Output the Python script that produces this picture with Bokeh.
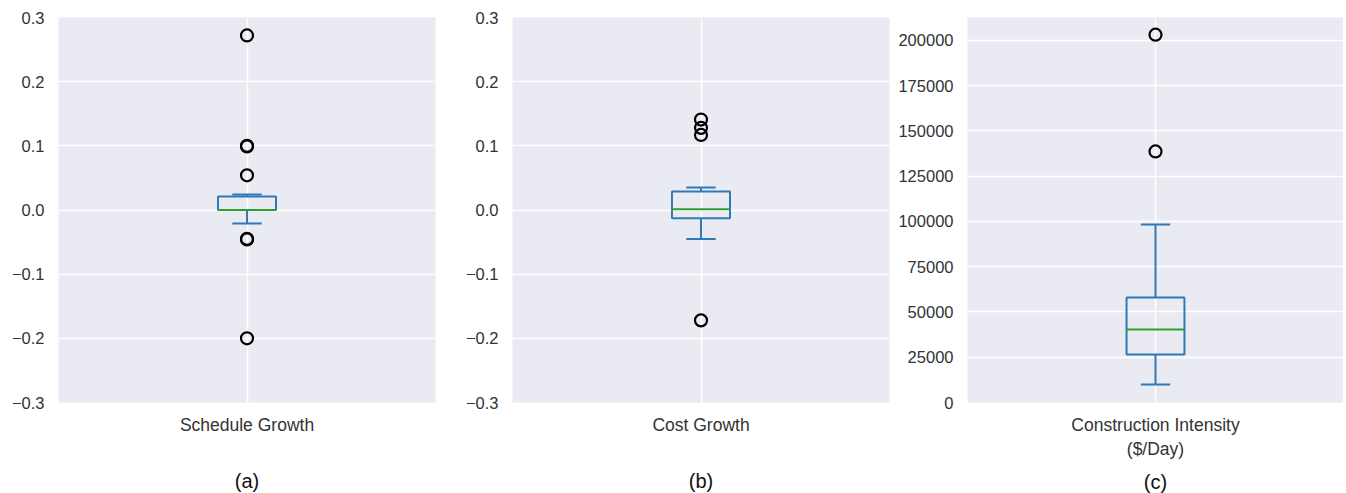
from bokeh.plotting import figure
from bokeh.layouts import row
from bokeh.models import FixedTicker, Range1d
from bokeh.embed import file_html
from bokeh.resources import INLINE

# ---- data ----
labels = ["Schedule Growth", "Cost Growth", "Construction Intensity\n($/Day)"]
captions = ["(a)", "(b)", "(c)"]

sched_stats = dict(lo=-0.021, q1=0.0, med=0.0, q3=0.021, hi=0.024)
sched_out = [0.272, 0.100, 0.099, 0.054, -0.045, -0.046, -0.200]

cost_stats = dict(lo=-0.045, q1=-0.013, med=0.001, q3=0.029, hi=0.035)
cost_out = [0.141, 0.128, 0.117, -0.172]

int_stats = dict(lo=9900, q1=26500, med=40300, q3=58000, hi=98400)
int_out = [203200, 138700]

yticks_growth = [-0.3, -0.2, -0.1, 0.0, 0.1, 0.2, 0.3]
yticks_int = [0, 25000, 50000, 75000, 100000, 125000, 150000, 175000, 200000]

BG = "#EAEAF2"
BLUE = "#3079b8"
GREEN = "#2ca02c"
FONT = "Liberation Sans"


def make_panel(stats, outliers, label, caption, yrange, yticks, fmt,
               left, fw, right, lbl_standoff):
    p = figure(frame_width=fw, frame_height=385, output_backend="svg",
               toolbar_location=None, x_range=Range1d(0.5, 1.5),
               y_range=Range1d(*yrange),
               min_border_left=left, min_border_right=right,
               min_border_top=17, min_border_bottom=90)
    p.background_fill_color = BG
    p.border_fill_color = "white"
    p.outline_line_color = None
    hw, cw = 0.077, 0.039
    # whiskers
    p.segment(x0=[1, 1], y0=[stats["q3"], stats["q1"]],
              x1=[1, 1], y1=[stats["hi"], stats["lo"]],
              line_color=BLUE, line_width=2)
    # caps
    p.segment(x0=[1 - cw, 1 - cw], y0=[stats["hi"], stats["lo"]],
              x1=[1 + cw, 1 + cw], y1=[stats["hi"], stats["lo"]],
              line_color=BLUE, line_width=2)
    # box
    p.quad(left=[1 - hw], right=[1 + hw], bottom=[stats["q1"]], top=[stats["q3"]],
           fill_color=None, line_color=BLUE, line_width=2)
    # median
    p.segment(x0=[1 - hw], y0=[stats["med"]], x1=[1 + hw], y1=[stats["med"]],
              line_color=GREEN, line_width=2)
    # outliers
    p.scatter(x=[1] * len(outliers), y=outliers, marker="circle", size=12,
              fill_color=None, line_color="black", line_width=2.2)

    p.xaxis.ticker = FixedTicker(ticks=[1])
    p.xaxis.major_label_overrides = {1: label}
    p.yaxis.ticker = FixedTicker(ticks=yticks)
    p.yaxis.major_label_overrides = {t: fmt(t) for t in yticks}
    for ax in (p.xaxis, p.yaxis):
        ax.axis_line_color = None
        ax.major_tick_line_color = None
        ax.minor_tick_line_color = None
        ax.major_tick_out = 0
        ax.major_tick_in = 0
        ax.major_label_text_font = FONT
        ax.major_label_text_color = "#333333"
    p.yaxis.major_label_text_font_size = "16.5px"
    p.yaxis.major_label_standoff = 14
    p.xaxis.major_label_text_font_size = "17.5px"
    p.xaxis.major_label_standoff = 12
    p.xaxis.axis_label = caption
    p.xaxis.axis_label_text_font = FONT
    p.xaxis.axis_label_text_font_style = "normal"
    p.xaxis.axis_label_text_font_size = "20px"
    p.xaxis.axis_label_text_color = "#111111"
    p.xaxis.axis_label_standoff = lbl_standoff
    p.xgrid.grid_line_color = "white"
    p.xgrid.grid_line_width = 1.5
    p.ygrid.grid_line_color = "white"
    p.ygrid.grid_line_width = 1.5
    return p


def fmt_growth(t):
    s = f"{t:.1f}"
    return s.replace("-", "\u2212")


def fmt_int(t):
    return f"{int(t)}"


pa = make_panel(sched_stats, sched_out, labels[0], captions[0], (-0.3, 0.3),
                yticks_growth, fmt_growth, 58, 377, 15, 32)
pb = make_panel(cost_stats, cost_out, labels[1], captions[1], (-0.3, 0.3),
                yticks_growth, fmt_growth, 62, 377, 6, 32)
pc = make_panel(int_stats, int_out, labels[2], captions[2], (0, 212700),
                yticks_int, fmt_int, 71, 376, 0, 9)

layout = row(pa, pb, pc)
open("out.html", "w").write(file_html(layout, INLINE))
